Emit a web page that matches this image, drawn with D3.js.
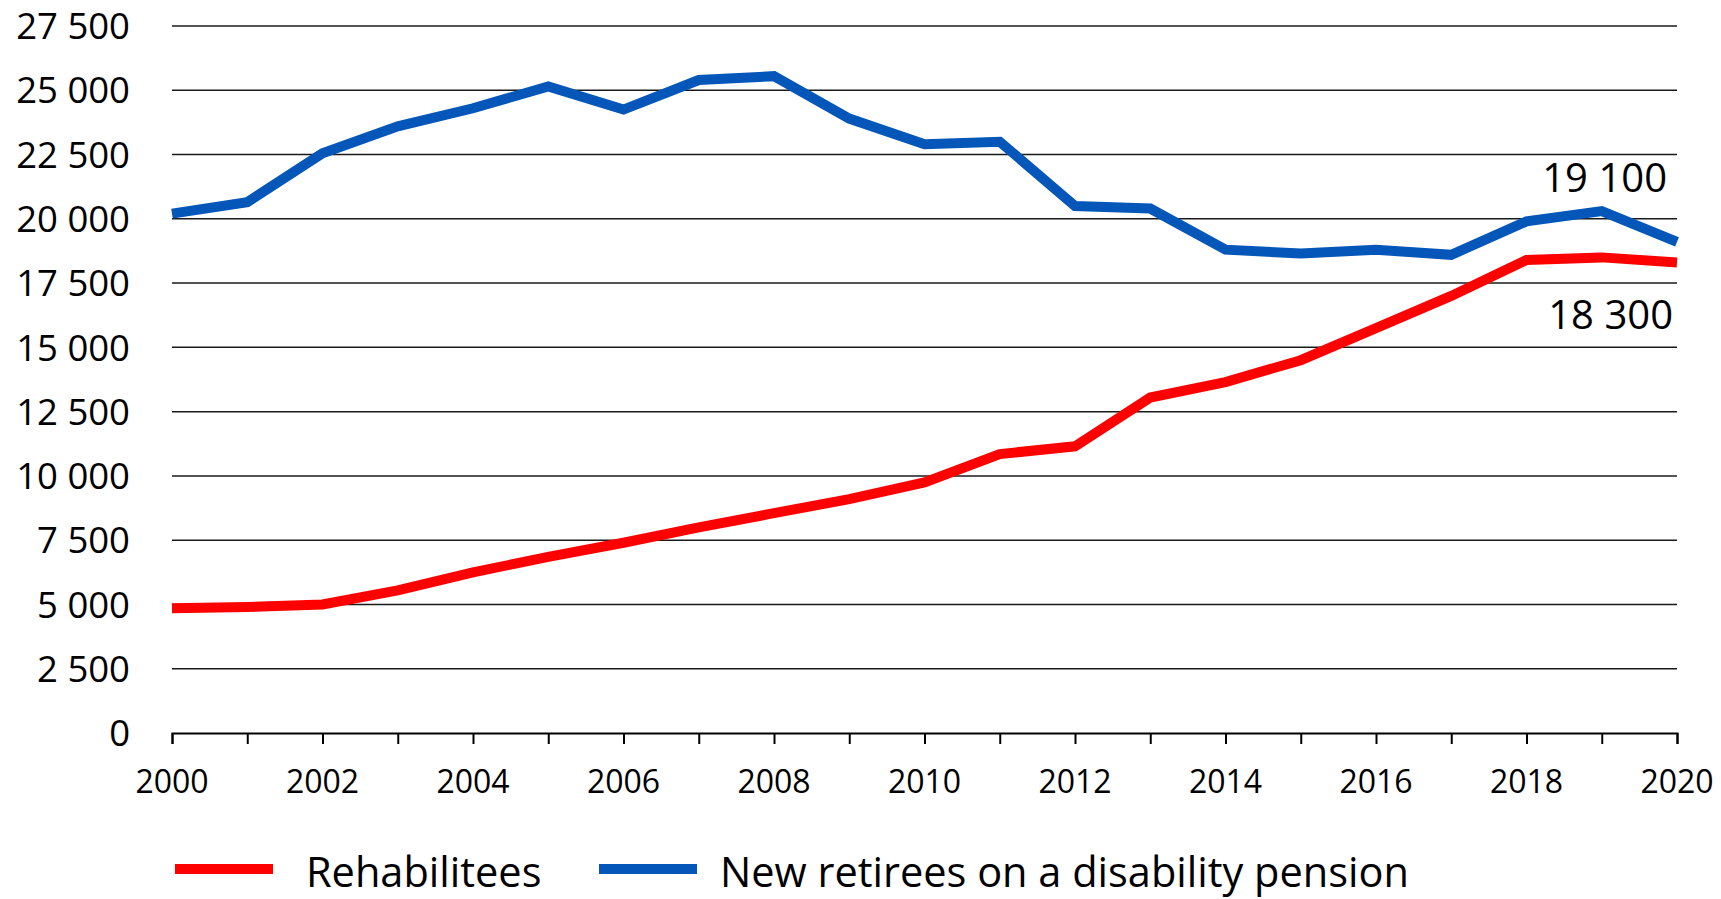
<!DOCTYPE html>
<html>
<head>
<meta charset="utf-8">
<script src="https://cdn.jsdelivr.net/npm/d3@7"></script>
<style>
  html, body { margin: 0; padding: 0; background: #fff; }
  svg { display: block; font-family: "Open Sans", sans-serif; }
</style>
</head>
<body>
<svg id="chart" width="1721" height="899"></svg>
<script>
const years = d3.range(2000, 2021);
const rehabilitees = [4850, 4900, 5000, 5550, 6250, 6850, 7400, 8000, 8550, 9100, 9750,
  10850, 11150, 13050, 13650, 14500, 15750, 17000, 18400, 18500, 18300];
const newRetirees = [20200, 20650, 22550, 23600, 24300, 25150, 24250, 25400, 25550, 23900, 22900,
  23000, 20500, 20400, 18800, 18650, 18800, 18600, 19900, 20300, 19100];
const yTicks = [0, 2500, 5000, 7500, 10000, 12500, 15000, 17500, 20000, 22500, 25000, 27500];
const xTickLabels = [2000, 2002, 2004, 2006, 2008, 2010, 2012, 2014, 2016, 2018, 2020];
const seriesNames = ["Rehabilitees", "New retirees on a disability pension"];
const seriesColors = ["#FF0000", "#0456B8"];
const endLabels = ["18 300", "19 100"];

const svg = d3.select("#chart");
const plotLeft = 172, plotRight = 1677, plotTop = 26, plotBottom = 733;

const x = d3.scaleLinear().domain([2000, 2020]).range([plotLeft, plotRight]);
const y = d3.scaleLinear().domain([0, 27500]).range([plotBottom, plotTop]);
const fmt = v => d3.format(",")(v).replace(/,/g, " ");

// gridlines
svg.append("g").selectAll("line").data(yTicks.filter(t => t > 0)).join("line")
  .attr("x1", plotLeft).attr("x2", plotRight)
  .attr("y1", d => y(d)).attr("y2", d => y(d))
  .attr("stroke", "#1a1a1a").attr("stroke-width", 1.5);

// y labels
svg.append("g").selectAll("text").data(yTicks).join("text")
  .attr("x", 130).attr("y", d => y(d)).attr("dy", "0.36em")
  .attr("text-anchor", "end").attr("font-size", 36.5).attr("fill", "#000")
  .text(fmt);

// x axis
const xAxis = d3.axisBottom(x).tickValues(years).tickSize(11).tickFormat("");
const gx = svg.append("g").attr("transform", `translate(0,${plotBottom})`).call(xAxis);
gx.select(".domain").attr("stroke", "#000").attr("stroke-width", 2);
gx.selectAll(".tick line").attr("stroke", "#000").attr("stroke-width", 2);

svg.append("g").selectAll("text").data(xTickLabels).join("text")
  .attr("x", d => x(d)).attr("y", 793)
  .attr("text-anchor", "middle").attr("font-size", 32).attr("fill", "#000")
  .text(d => d);

// lines
const line = d3.line().x((d, i) => x(years[i])).y(d => y(d));
[rehabilitees, newRetirees].forEach((s, k) => {
  svg.append("path").datum(s)
    .attr("d", line)
    .attr("fill", "none")
    .attr("stroke", seriesColors[k])
    .attr("stroke-width", 10)
    .attr("stroke-linejoin", "miter");
});

// end labels
svg.append("text").attr("x", 1667).attr("y", 192).attr("text-anchor", "end")
  .attr("font-size", 40).attr("fill", "#000").text(endLabels[1]);
svg.append("text").attr("x", 1673).attr("y", 329).attr("text-anchor", "end")
  .attr("font-size", 40).attr("fill", "#000").text(endLabels[0]);

// legend
const legendItems = [
  { x1: 175, x2: 273, tx: 306 },
  { x1: 599, x2: 697, tx: 720 }
];
legendItems.forEach((it, k) => {
  svg.append("line").attr("x1", it.x1).attr("x2", it.x2)
    .attr("y1", 869).attr("y2", 869)
    .attr("stroke", seriesColors[k]).attr("stroke-width", 10);
  svg.append("text").attr("x", it.tx).attr("y", 887)
    .attr("font-size", 41.5).attr("fill", "#000").text(seriesNames[k]);
});
</script>
</body>
</html>
